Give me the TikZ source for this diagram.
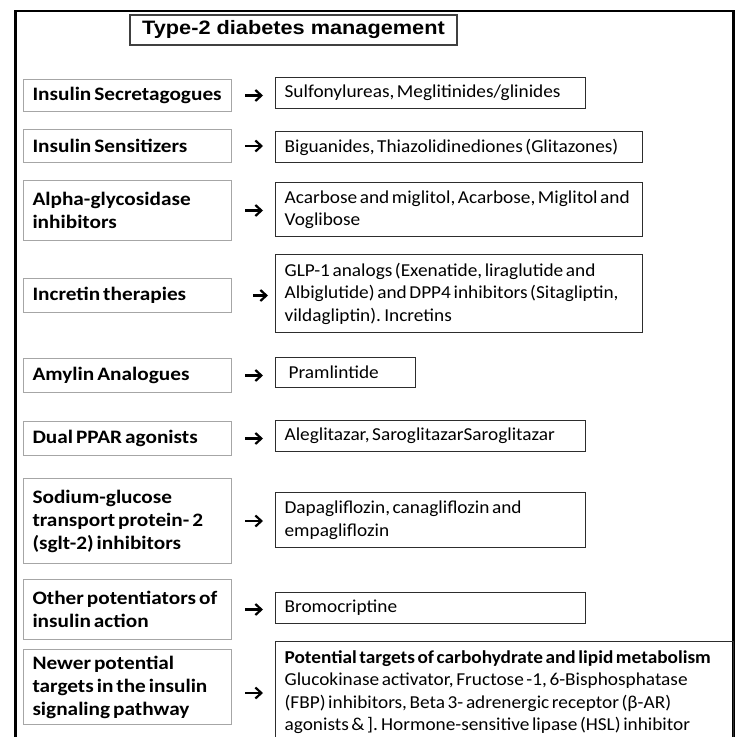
\documentclass[tikz,border=0pt]{standalone}
\usepackage{fontspec}
\setmainfont{Carlito}[FakeStretch=1.12]
\newfontfamily\drugfont{Carlito}[FakeStretch=1.06]
\newfontfamily\titlefont[FakeStretch=1.12]{Liberation Sans}
\usetikzlibrary{arrows.meta,positioning}
\definecolor{framegray}{RGB}{64,64,64}
\definecolor{boxgray}{RGB}{166,166,166}
\definecolor{inkgray}{RGB}{45,45,45}
\tikzset{
  titlebox/.style={
    draw=framegray,
    line width=1.2pt,
    minimum width=327pt,
    minimum height=30pt,
    inner sep=0pt,
    font=\titlefont\bfseries\fontsize{19.4}{22}\selectfont
  },
  classbox/.style={
    draw=boxgray,
    line width=1pt,
    anchor=north west,
    text width=190pt,
    inner xsep=9pt,
    inner ysep=2pt,
    align=left,
    font=\bfseries\fontsize{19}{23}\selectfont,
    execute at begin node={\spaceskip=3pt plus 1pt\xspaceskip=3.5pt plus 1pt\relax}
  },
  drugbox/.style={
    draw=inkgray,
    line width=1.2pt,
    anchor=north west,
    inner xsep=9pt,
    inner ysep=2pt,
    align=left,
    font=\drugfont\fontsize{18.2}{22.5}\selectfont,
    execute at begin node={\spaceskip=2.6pt plus 1pt\xspaceskip=3.2pt plus 1pt\relax}
  },
  arrow/.style={-{Straight Barb[length=6pt,width=11pt]}, line width=2.2pt, shorten <=13pt, shorten >=12pt}
}

\begin{document}
\begin{tikzpicture}[x=1pt, y=-1pt]
    \useasboundingbox (0,0) rectangle (738,736);
    \draw[line width=2.2pt] (15.5,11) rectangle (733.5,770);
    \node[titlebox] (title) at (293.5,30) {Type-2 diabetes management};
    % classes of drugs
    \node[classbox, minimum height=32pt] (secr) at (23,79) {Insulin Secretagogues};
    \node[classbox, minimum height=33pt] (sens) at (23,129) {Insulin Sensitizers};
    \node[classbox, minimum height=60pt] (alpha) at (23,180) {Alpha-glycosidase\\inhibitors};
    \node[classbox, minimum height=34pt] (incr) at (23,278) {Incretin therapies};
    \node[classbox, minimum height=34pt] (amyl) at (23,358) {Amylin Analogues};
    \node[classbox, minimum height=34pt] (ppar) at (23,421) {Dual PPAR agonists};
    \node[classbox, minimum height=85pt] (sglt) at (23,478) {Sodium-glucose\\transport protein- 2\\(sglt-2) inhibitors};
    \node[classbox, minimum height=60pt] (other) at (23,579) {Other potentiators of\\insulin action};
    \node[classbox, minimum height=75pt] (newer) at (23,649) {Newer potential\\targets in the insulin\\signaling pathway};
    % drugs
    \node[drugbox, text width=292pt, minimum height=31pt] (secrdrug) at (275,77) {Sulfonylureas, Meglitinides/glinides};
    \node[drugbox, text width=349pt, minimum height=31pt] (sensdrug) at (275,131) {Biguanides, Thiazolidinediones (Glitazones)};
    \node[drugbox, text width=349pt, minimum height=54pt] (alphadrug) at (275,182) {Acarbose and miglitol, Acarbose, Miglitol and\\Voglibose};
    \node[drugbox, text width=349pt, minimum height=78pt] (incrdrug) at (275,254) {GLP-1 analogs (Exenatide, liraglutide and\\Albiglutide) and DPP4 inhibitors (Sitagliptin,\\vildagliptin). Incretins};
    \node[drugbox, text width=122pt, minimum height=30pt] (amyldrug) at (275,357) {\hspace*{4pt}Pramlintide};
    \node[drugbox, text width=292pt, minimum height=31pt] (ppardrug) at (275,420) {Aleglitazar, SaroglitazarSaroglitazar};
    \node[drugbox, text width=292pt, minimum height=55pt] (sgltdrug) at (275,492) {Dapagliflozin, canagliflozin and\\empagliflozin};
    \node[drugbox, text width=292pt, minimum height=31pt] (otherdrug) at (275,592) {Bromocriptine};
    \node[drugbox, text width=440pt, inner ysep=9pt, text depth=100pt] (newerdrug) at (275,641) {\textbf{Potential targets of carbohydrate and lipid metabolism}\\Glucokinase activator, Fructose -1, 6-Bisphosphatase\\(FBP) inhibitors, Beta 3- adrenergic receptor (β-AR)\\agonists \& ]. Hormone-sensitive lipase (HSL) inhibitor};
    % arrows
    \draw[arrow] (secr.east) -- (secr.east -| secrdrug.west);
    \draw[arrow] (sens.east) -- (sens.east -| sensdrug.west);
    \draw[arrow] (alpha.east) -- (alpha.east -| alphadrug.west);
    \draw[arrow, shorten <=21pt, shorten >=7pt] (incr.east) -- (incr.east -| incrdrug.west);
    \draw[arrow] (amyl.east) -- (amyl.east -| amyldrug.west);
    \draw[arrow] (ppar.east) -- (ppar.east -| ppardrug.west);
    \draw[arrow] (sglt.east) -- (sglt.east -| sgltdrug.west);
    \draw[arrow] (other.east) -- (other.east -| otherdrug.west);
    \draw[arrow] ([yshift=-6pt]newer.east) -- ([yshift=-6pt]newer.east -| newerdrug.west);
\end{tikzpicture}
\end{document}
